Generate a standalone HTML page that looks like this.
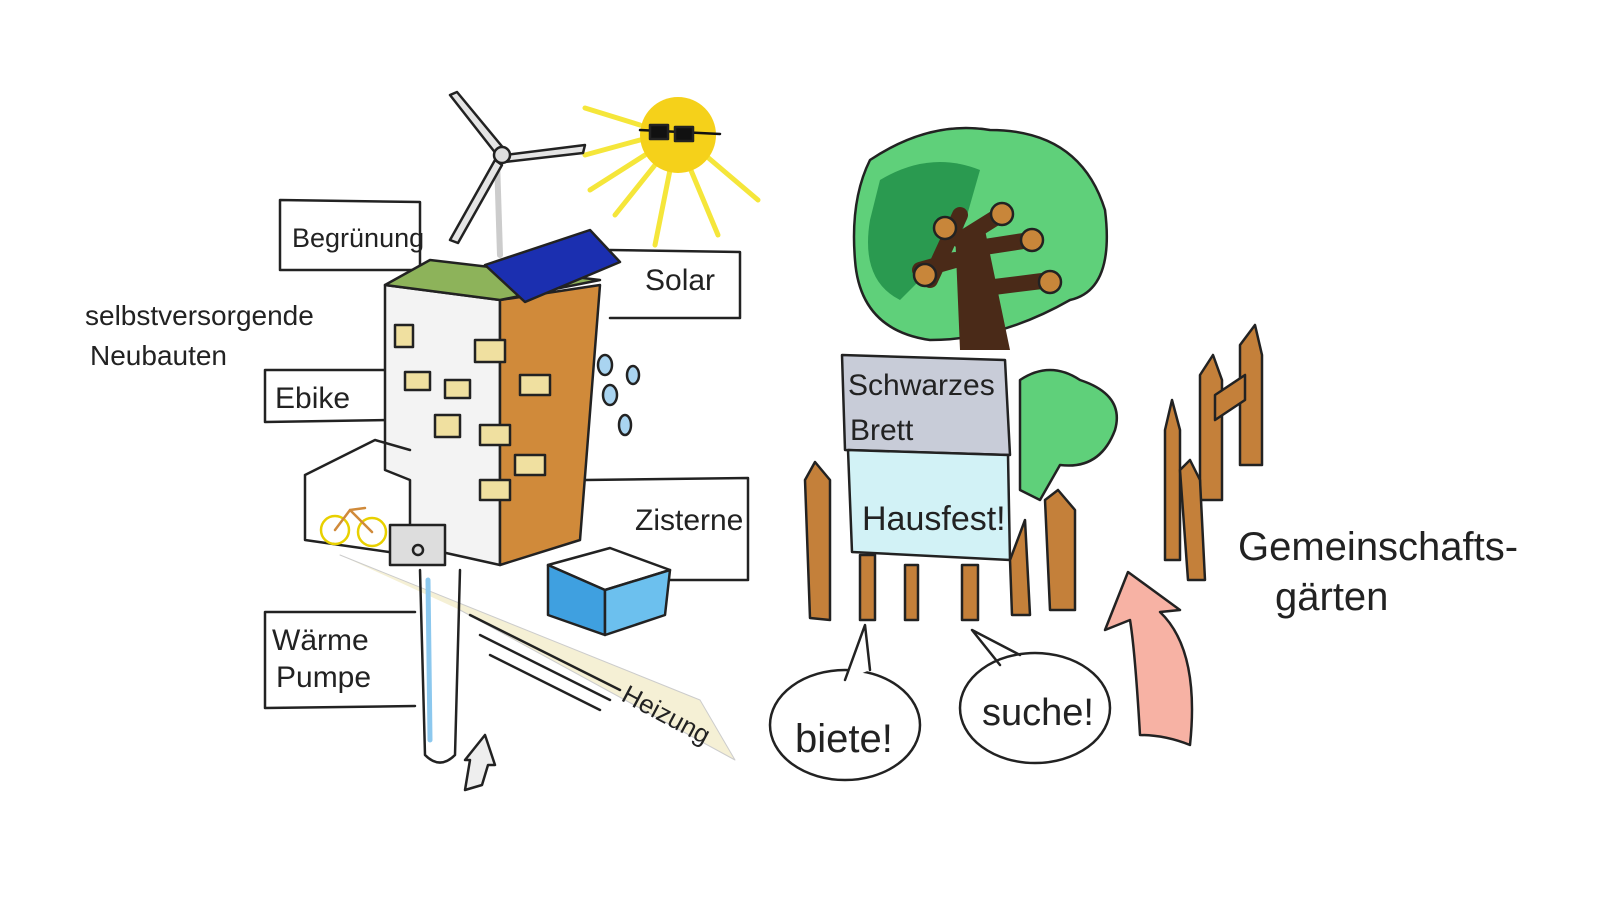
<!DOCTYPE html>
<html><head><meta charset="utf-8"><style>
html,body{margin:0;padding:0;background:#fff;width:1600px;height:900px;overflow:hidden}
text{font-family:"Liberation Sans",sans-serif;fill:#222}
</style></head><body>
<svg width="1600" height="900" viewBox="0 0 1600 900" xmlns="http://www.w3.org/2000/svg">
<g stroke="#222" stroke-width="2.5" fill="none" stroke-linecap="round" stroke-linejoin="round">
<!-- sun rays -->
<g stroke="#f5e63a" stroke-width="5">
<line x1="640" y1="125" x2="585" y2="108"/><line x1="640" y1="140" x2="585" y2="155"/>
<line x1="645" y1="155" x2="590" y2="190"/><line x1="655" y1="165" x2="615" y2="215"/>
<line x1="670" y1="170" x2="655" y2="245"/><line x1="690" y1="168" x2="718" y2="235"/>
<line x1="705" y1="155" x2="758" y2="200"/>
</g>
<circle cx="678" cy="135" r="38" fill="#f5d11a" stroke="none"/>
<path d="M640 130 L720 134" stroke="#111"/>
<rect x="650" y="125" width="18" height="14" fill="#111"/><rect x="675" y="127" width="18" height="14" fill="#111"/>
<!-- wind turbine -->
<line x1="497" y1="160" x2="500" y2="255" stroke-width="6" stroke="#ccc"/>
<path d="M497 155 L450 95 L457 92 L505 150 Z" fill="#e5e5e5"/>
<path d="M505 155 L585 145 L583 153 L505 162 Z" fill="#e5e5e5"/>
<path d="M495 160 L450 240 L458 243 L502 165 Z" fill="#e5e5e5"/>
<circle cx="502" cy="155" r="8" fill="#ddd"/>
<!-- label boxes -->
<path d="M280 200 L420 202 L420 270 L280 270 Z"/>
<path d="M610 250 L740 252 L740 318 L610 318"/>
<path d="M265 370 L390 370 M265 370 L265 422 L390 420"/>
<path d="M585 480 L748 478 L748 580 L660 580"/>
<path d="M265 612 L415 612 M265 612 L265 708 L415 706"/>
<!-- building -->
<path d="M385 285 L500 300 L500 565 L410 545 L410 480 L385 470 Z" fill="#f3f3f3"/>
<path d="M500 300 L600 285 L580 540 L500 565 Z" fill="#d08a3a"/>
<path d="M385 285 L430 260 L600 280 L500 300 Z" fill="#8db35a"/>
<path d="M485 265 L590 230 L620 262 L525 302 Z" fill="#1b2fb0"/>
<g fill="#f0e0a0">
<rect x="395" y="325" width="18" height="22"/><rect x="405" y="372" width="25" height="18"/><rect x="445" y="380" width="25" height="18"/>
<rect x="435" y="415" width="25" height="22"/><rect x="475" y="340" width="30" height="22"/><rect x="480" y="425" width="30" height="20"/>
<rect x="520" y="375" width="30" height="20"/><rect x="515" y="455" width="30" height="20"/><rect x="480" y="480" width="30" height="20"/>
</g>
<!-- ebike shed -->
<path d="M305 475 L305 540 L410 555 M305 475 L375 440 L410 450"/>
<circle cx="335" cy="530" r="14" stroke="#e8d000"/><circle cx="372" cy="532" r="14" stroke="#e8d000"/>
<path d="M335 530 L350 510 L372 532 M350 510 L365 508" stroke="#d08a3a"/>
<rect x="390" y="525" width="55" height="40" fill="#ddd"/><circle cx="418" cy="550" r="5"/>
<!-- rain drops -->
<g fill="#a9d4f0"><ellipse cx="605" cy="365" rx="7" ry="10"/><ellipse cx="633" cy="375" rx="6" ry="9"/><ellipse cx="610" cy="395" rx="7" ry="10"/><ellipse cx="625" cy="425" rx="6" ry="10"/></g>
<!-- cistern -->
<path d="M548 565 L610 548 L670 570 L605 590 Z" fill="#fff"/>
<path d="M548 565 L548 615 L605 635 L605 590 Z" fill="#3fa0e0"/>
<path d="M605 590 L670 570 L665 615 L605 635 Z" fill="#6cc0ee"/>
<!-- ground / pipes -->
<path d="M340 555 L700 700 L735 760 L460 610" stroke="#ccc" fill="#f5f0d5" stroke-width="1"/>
<path d="M470 615 L620 690 M480 635 L610 700 M490 655 L600 710"/>
<path d="M420 570 L425 755 Q440 770 455 755 L460 570" />
<line x1="428" y1="580" x2="430" y2="740" stroke="#8cc8ee" stroke-width="5"/>
<path d="M465 790 L470 760 L465 760 L485 735 L495 765 L488 765 L482 785 Z" fill="#eee"/>
<!-- tree -->
<path d="M870 160 Q930 120 990 130 Q1080 130 1105 210 Q1115 290 1070 300 Q1000 340 930 340 Q860 330 855 260 Q850 200 870 160 Z" fill="#5fd07a"/>
<path d="M880 180 Q930 150 980 170 L960 240 L900 300 Q860 280 870 220 Z" fill="#2a9a50" stroke="none"/>
<path d="M960 215 L930 280 M960 240 L1000 215 M965 250 L1030 240 M970 290 L1050 280 M955 260 L920 270" stroke="#4a2a18" stroke-width="16"/>
<path d="M955 230 L960 350 L1010 350 L985 230 Z" fill="#4a2a18" stroke="none"/>
<g fill="#c8863a"><circle cx="945" cy="228" r="11"/><circle cx="1002" cy="214" r="11"/><circle cx="1032" cy="240" r="11"/><circle cx="925" cy="275" r="11"/><circle cx="1050" cy="282" r="11"/></g>
<path d="M1020 380 Q1050 360 1080 380 Q1125 395 1115 430 Q1100 470 1060 465 L1040 500 L1020 490 Z" fill="#5fd07a"/>
<!-- sign -->
<path d="M842 355 L1005 360 L1010 455 L845 450 Z" fill="#c8ccd8"/>
<path d="M848 450 L1008 455 L1010 560 L852 552 Z" fill="#d2f2f6"/>
<!-- fences -->
<g fill="#c4803a">
<path d="M805 480 L815 462 L830 480 L830 620 L810 618 Z"/><path d="M1045 500 L1058 490 L1075 510 L1075 610 L1050 610 Z"/>
<path d="M1010 560 L1025 520 L1030 615 L1012 615 Z"/>
<path d="M860 555 L875 555 L875 620 L860 620 Z"/><path d="M905 565 L918 565 L918 620 L905 620 Z"/><path d="M962 565 L978 565 L978 620 L962 620 Z"/>
<path d="M1165 430 L1172 400 L1180 430 L1180 560 L1165 560 Z"/><path d="M1200 375 L1213 355 L1222 380 L1222 500 L1200 500 Z"/>
<path d="M1240 345 L1255 325 L1262 355 L1262 465 L1240 465 Z"/><path d="M1180 470 L1190 460 L1200 480 L1205 580 L1188 580 Z"/>
<path d="M1215 395 L1245 375 L1245 400 L1215 420 Z"/>
</g>
<!-- pink arrow -->
<path d="M1140 735 Q1135 650 1130 620 L1105 630 L1128 572 L1180 610 L1160 612 Q1200 650 1190 745 Q1165 735 1140 735 Z" fill="#f7b2a4"/>
<!-- bubbles -->
<ellipse cx="845" cy="725" rx="75" ry="55" fill="#fff"/>
<path d="M845 680 L865 625 L870 670" fill="#fff"/>
<ellipse cx="1035" cy="708" rx="75" ry="55" fill="#fff"/>
<path d="M1000 665 L972 630 L1020 655"/>
</g>
<g font-size="30">
<text x="292" y="247" font-size="27">Begrünung</text>
<text x="645" y="290">Solar</text>
<text x="275" y="408">Ebike</text>
<text x="635" y="530">Zisterne</text>
<text x="272" y="650">Wärme</text>
<text x="276" y="687">Pumpe</text>
<text x="620" y="700" transform="rotate(28 620 700)" font-size="26">Heizung</text>
<text x="85" y="325" font-size="28">selbstversorgende</text>
<text x="90" y="365" font-size="28">Neubauten</text>
<text x="848" y="395" font-size="30">Schwarzes</text>
<text x="850" y="440" font-size="30">Brett</text>
<text x="862" y="530" font-size="34">Hausfest!</text>
<text x="795" y="752" font-size="40">biete!</text>
<text x="982" y="725" font-size="38">suche!</text>
<text x="1238" y="560" font-size="40">Gemeinschafts-</text>
<text x="1275" y="610" font-size="40">gärten</text>
</g>
</svg>
</body></html>
